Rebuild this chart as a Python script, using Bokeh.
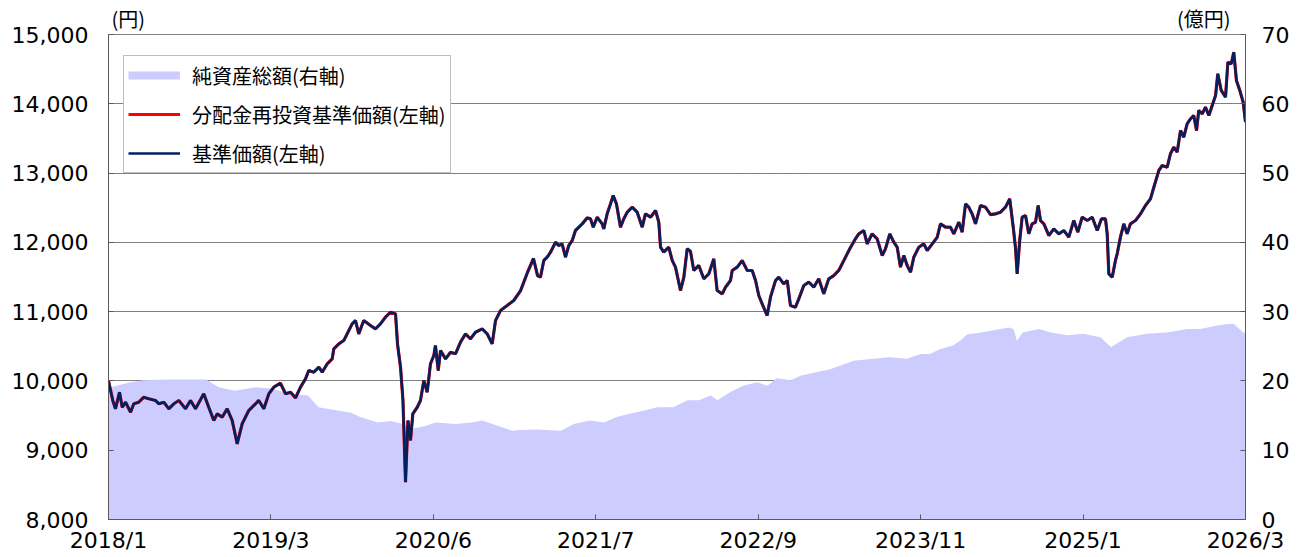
from bokeh.plotting import figure
from bokeh.models import (Range1d, LinearAxis, NumeralTickFormatter, FixedTicker,
                          Legend, LegendItem)
from bokeh.embed import file_html
from bokeh.resources import INLINE

# x positions are months elapsed since 2018/1 on the chart's time axis
x_ticks = [0, 14, 28, 42, 56, 70, 84, 98]
x_labels = ["2018/1", "2019/3", "2020/6", "2021/7", "2022/9", "2023/11", "2025/1", "2026/3"]
left_ticks = [8000, 9000, 10000, 11000, 12000, 13000, 14000, 15000]
right_ticks = [0, 10, 20, 30, 40, 50, 60, 70]
unit_labels = ["(円)", "(億円)"]

nav_t = [0.0, 0.37, 0.60, 0.95, 1.18, 1.47, 1.90, 2.18, 2.61, 3.04, 3.47, 4.05, 4.34, 4.77, 5.20,
         5.63, 6.06, 6.64, 7.07, 7.50, 8.21, 8.64, 9.08, 9.37, 9.80, 10.23, 10.66, 11.09, 11.52,
         12.09, 12.67, 12.95, 13.39, 13.82, 14.25, 14.82, 15.26, 15.69, 16.12, 16.55, 16.98,
         17.26, 17.70, 18.13, 18.42, 18.85, 19.28, 19.42, 19.85, 20.28, 20.57, 21.00, 21.29,
         21.57, 22.00, 22.58, 23.01, 23.44, 23.87, 24.31, 24.74, 24.91, 25.17, 25.38, 25.60,
         25.81, 26.03, 26.23, 26.61, 26.89, 27.18, 27.47, 27.75, 28.04, 28.18, 28.42, 28.62,
         29.05, 29.48, 29.91, 30.34, 30.77, 31.20, 31.63, 32.21, 32.64, 33.07, 33.36, 33.79,
         34.36, 34.93, 35.51, 36.11, 36.63, 36.98, 37.23, 37.52, 37.81, 38.10, 38.53, 38.81,
         39.10, 39.39, 39.67, 39.97, 40.25, 40.54, 40.83, 41.26, 41.55, 41.78, 42.12, 42.55,
         42.69, 42.98, 43.27, 43.50, 43.78, 44.13, 44.41, 44.71, 45.14, 45.57, 46.00, 46.28,
         46.72, 47.15, 47.43, 47.58, 47.86, 48.29, 48.59, 48.87, 49.30, 49.59, 49.88, 50.16,
         50.45, 50.88, 51.31, 51.74, 52.17, 52.46, 52.90, 53.18, 53.61, 53.76, 54.19, 54.62,
         55.05, 55.48, 55.77, 56.05, 56.34, 56.77, 57.06, 57.49, 57.77, 58.20, 58.50, 58.78,
         59.21, 59.50, 59.93, 60.36, 60.79, 61.22, 61.65, 62.08, 62.51, 62.94, 63.38, 63.89,
         64.38, 64.67, 65.10, 65.39, 65.82, 66.25, 66.69, 66.97, 67.34, 67.69, 67.98, 68.26,
         68.55, 68.84, 69.13, 69.41, 69.84, 70.27, 70.57, 71.00, 71.43, 71.71, 72.14, 72.57,
         72.86, 73.29, 73.58, 73.87, 74.15, 74.44, 74.73, 75.16, 75.59, 76.02, 76.45, 76.88,
         77.31, 77.68, 77.98, 78.17, 78.32, 78.54, 78.75, 79.04, 79.32, 79.61, 79.90, 80.13,
         80.33, 80.62, 81.05, 81.48, 81.91, 82.34, 82.77, 83.20, 83.55, 83.92, 84.36, 84.79,
         85.22, 85.59, 85.93, 86.08, 86.22, 86.51, 86.79, 86.94, 87.22, 87.51, 87.80, 88.08,
         88.52, 88.95, 89.38, 89.81, 90.10, 90.53, 90.82, 91.25, 91.53, 91.82, 92.11, 92.40,
         92.68, 92.97, 93.26, 93.54, 93.78, 93.97, 94.27, 94.55, 94.84, 95.13, 95.42, 95.61,
         95.91, 96.28, 96.48, 96.77, 96.99, 97.22, 97.51, 97.80, 98.00]
nav = [10000, 9718, 9598, 9837, 9620, 9693, 9549, 9670, 9693, 9765, 9742, 9718, 9670, 9693, 9598,
       9670, 9718, 9598, 9718, 9598, 9814, 9620, 9429, 9525, 9477, 9598, 9429, 9092, 9381,
       9573, 9670, 9718, 9598, 9814, 9910, 9967, 9814, 9837, 9756, 9910, 10030,
       10150, 10126, 10198, 10126, 10246, 10318, 10463, 10535, 10583, 10679, 10824, 10872,
       10679, 10872, 10800, 10752, 10824, 10920, 10992, 10968, 10535, 10198, 9718, 8538,
       9429, 9141, 9525, 9620, 9718, 10006, 9837, 10246, 10367, 10511, 10150, 10439,
       10318, 10415, 10391, 10559, 10679, 10607, 10703, 10752, 10679, 10535, 10872, 11016,
       11088, 11161, 11300, 11565, 11767, 11520, 11497, 11738, 11786, 11858, 12002, 11954,
       11978, 11786, 11954, 12027, 12171, 12219, 12267, 12353, 12339, 12219, 12363, 12267,
       12195, 12411, 12556, 12676, 12556, 12219, 12339, 12435, 12507, 12435, 12219, 12411,
       12363, 12460, 12291, 11930, 11858, 11930, 11738, 11642, 11305, 11497, 11907, 11870,
       11594, 11666, 11474, 11545, 11762, 11305, 11257, 11353, 11449, 11594, 11642, 11738,
       11594, 11594, 11449, 11233, 11112, 10944, 11209, 11449, 11497, 11401, 11449, 11088,
       11064, 11185, 11377, 11425, 11353, 11474, 11257, 11474, 11521, 11594, 11738, 11907,
       12051, 12123, 12171, 11978, 12123, 12051, 11810, 11907, 12123, 12002, 11930, 11642,
       11810, 11666, 11569, 11786, 11930, 11978, 11882, 11978, 12075, 12267, 12219, 12219,
       12123, 12291, 12147, 12556, 12507, 12411, 12267, 12532, 12507, 12400, 12411, 12435,
       12507, 12628, 12219, 11930, 11545, 12027, 12363, 12387, 12123, 12267, 12291, 12532,
       12315, 12267, 12099, 12195, 12123, 12171, 12075, 12315, 12147, 12363, 12315, 12363,
       12171, 12340, 12339, 12123, 11545, 11497, 11738, 11834, 12075, 12267, 12123, 12267,
       12315, 12411, 12532, 12628, 12796, 13037, 13109, 13085, 13278, 13374, 13302, 13614,
       13518, 13711, 13783, 13831, 13614, 13903, 13855, 13951, 13831, 13975, 14120, 14433,
       14192, 14096, 14600, 14577, 14745, 14336, 14192, 14023, 13735]

tna_t = [0.0, 1.9, 3.0, 4.9, 6.6, 8.4, 9.5, 10.9, 12.7, 14.0, 15.7, 17.2, 18.1, 19.1, 20.9,
         21.7, 23.2, 24.3, 25.4, 25.9, 27.3, 28.2, 29.9, 31.3, 32.2, 33.6, 34.8, 35.5, 36.8,
         39.0, 40.1, 41.5, 42.7, 43.8, 45.0, 46.1, 47.3, 48.7, 49.9, 50.9, 51.9, 52.5, 53.6,
         54.7, 55.9, 56.8, 57.6, 58.8, 59.7, 61.1, 62.2, 63.9, 64.2, 65.9, 67.4, 68.8, 70.0,
         70.8, 71.7, 72.8, 73.4, 74.0, 75.2, 76.3, 77.6, 78.0, 78.3, 78.8, 80.2, 81.2, 82.6,
         84.0, 85.5, 86.4, 87.1, 87.8, 89.5, 91.2, 93.0, 94.1, 95.6, 96.5, 97.0, 97.8, 98.0]
tna = [19.0, 19.8, 20.1, 20.2, 20.2, 20.2, 19.1, 18.6, 19.1, 18.9, 18.1, 17.9, 16.2, 15.9, 15.4,
       14.8, 14.0, 14.2, 13.8, 13.0, 13.5, 14.0, 13.8, 14.0, 14.3, 13.5, 12.8, 12.9, 13.0,
       12.8, 13.8, 14.3, 14.0, 14.8, 15.3, 15.7, 16.2, 16.2, 17.2, 17.2, 17.9, 17.2, 18.4,
       19.3, 19.8, 19.3, 20.4, 20.1, 20.8, 21.3, 21.7, 22.7, 22.9, 23.2, 23.4, 23.2, 23.9,
       23.9, 24.6, 25.1, 25.8, 26.7, 27.0, 27.3, 27.7, 27.5, 25.8, 27.0, 27.5, 27.0, 26.6,
       26.8, 26.3, 24.9, 25.6, 26.3, 26.8, 27.0, 27.5, 27.5, 28.0, 28.2, 28.2, 27.0, 26.9]

NUM_FONT = "DejaVu Sans"
JP_FONT = "Noto Sans CJK JP"

p = figure(width=1300, height=557, x_range=Range1d(0, 98), y_range=Range1d(8000, 15000),
           output_backend="svg", toolbar_location=None,
           min_border_left=108, min_border_right=55, min_border_top=34, min_border_bottom=38)
p.extra_y_ranges = {"right": Range1d(0, 70)}

p.outline_line_color = "#808080"
p.outline_line_width = 1
p.xgrid.visible = False
p.ygrid.grid_line_color = "#000000"
p.ygrid.grid_line_dash = "1 1"
p.ygrid.grid_line_width = 1
p.ygrid.ticker = FixedTicker(ticks=left_ticks)

area = p.varea(x=tna_t, y1=0, y2=tna, y_range_name="right", fill_color="#CCCCFF")
# legend proxy for the net-assets band (a single point draws no visible line)
area_leg = p.line(x=tna_t[:1], y=tna[:1], y_range_name="right",
                  line_color="#CCCCFF", line_width=8)
red = p.line(x=nav_t, y=nav, line_color="#FF0000", line_width=3.2)
navy = p.line(x=nav_t, y=nav, line_color="#002060", line_width=2.6)

# axes
xa = p.xaxis[0]
xa.ticker = FixedTicker(ticks=x_ticks)
xa.major_label_overrides = {t: l for t, l in zip(x_ticks, x_labels)}
ya = p.yaxis[0]
ya.ticker = FixedTicker(ticks=left_ticks)
ya.formatter = NumeralTickFormatter(format="0,0")

ra = LinearAxis(y_range_name="right", ticker=FixedTicker(ticks=right_ticks))
p.add_layout(ra, "right")

for ax in (xa, ya, ra):
    ax.axis_line_color = "#595959"
    ax.axis_line_width = 1
    ax.major_tick_line_color = "#595959"
    ax.major_tick_in = 5
    ax.major_tick_out = 0
    ax.minor_tick_line_color = None
    ax.major_label_text_font = NUM_FONT
    ax.major_label_text_font_size = "22px"
    ax.major_label_text_color = "#000000"
xa.major_label_standoff = 8
ya.major_label_standoff = 20
ra.major_label_standoff = 16

# unit captions above the left and right axes, drawn as labels of a bare top axis
unit_pos = [1.7, 94.4]
ta = LinearAxis(ticker=FixedTicker(ticks=unit_pos),
                major_label_overrides={t: l for t, l in zip(unit_pos, unit_labels)})
ta.axis_line_color = None
ta.major_tick_line_color = None
ta.minor_tick_line_color = None
ta.major_tick_in = 0
ta.major_tick_out = 0
ta.major_label_text_font = JP_FONT
ta.major_label_text_font_size = "20px"
ta.major_label_text_color = "#000000"
ta.major_label_standoff = 2
p.add_layout(ta, "above")

legend = Legend(items=[
    LegendItem(label="純資産総額(右軸)", renderers=[area_leg]),
    LegendItem(label="分配金再投資基準価額(左軸)", renderers=[red]),
    LegendItem(label="基準価額(左軸)", renderers=[navy]),
], location=(15, 346))
legend.label_text_font = JP_FONT
legend.label_text_font_size = "20px"
legend.label_text_color = "#000000"
legend.glyph_width = 52
legend.glyph_height = 30
legend.label_height = 30
legend.spacing = 9
legend.padding = 4
legend.margin = 0
legend.label_standoff = 12
legend.border_line_color = "#808080"
legend.border_line_width = 1
legend.background_fill_color = "white"
legend.background_fill_alpha = 1
p.add_layout(legend)

open("out.html", "w").write(file_html(p, INLINE))
